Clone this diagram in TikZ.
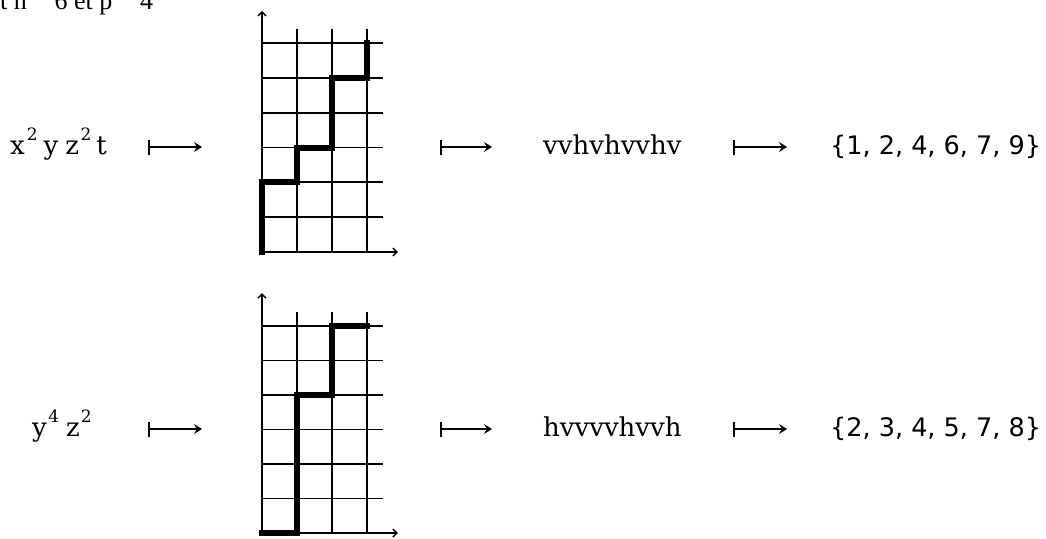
\documentclass[tikz,border=0pt]{standalone}
\usepackage{fontspec}
\setmainfont{DejaVu Serif}
\newfontfamily\setfont{DejaVu Sans}
\newfontfamily\timesfont{Liberation Serif}
\usetikzlibrary{arrows.meta}
\newcommand{\supr}[1]{\raisebox{13.5pt}{\fontsize{17pt}{17pt}\selectfont #1}}
\tikzset{
  gridline/.style={line width=1.7pt, black},
  axisline/.style={line width=1.7pt, black, -{Straight Barb[length=4pt,width=8pt,line width=1.4pt]}},
  pathline/.style={line width=6pt, black, line cap=rect, line join=miter},
  mapsto/.style={line width=1.8pt, black, {Bar[width=15pt,line width=1.8pt]}-{Stealth[length=8pt,width=10pt,inset=3pt]}},
  word/.style={inner sep=0pt, anchor=base west, font=\fontsize{26pt}{26pt}\selectfont},
  setlabel/.style={inner sep=0pt, anchor=base west, font=\setfont\fontsize{25.5pt}{26pt}\selectfont},
}
\begin{document}
\begin{tikzpicture}[x=1pt,y=-1pt]
\useasboundingbox (0,0) rectangle (1046,538);
\clip (0,0) rectangle (1046,538);

% partial top text (cut by the top edge, as in the reference)
\node[inner sep=0pt, anchor=base west, font=\timesfont\fontsize{26pt}{26pt}\selectfont] (top) at (0,9.5) {t n \phantom{=} 6 et p \phantom{=} 4};

% ---------- row 1 ----------
\node[word] (w1) at (10,154) {x\hspace*{2pt}\supr{2}\hspace*{6pt}y\hspace*{7pt}z\hspace*{1.5pt}\supr{2}\hspace*{5pt}t};
\coordinate (a1s) at (148,147); \coordinate (a1e) at (202,147);
\draw[mapsto] (a1s) -- (a1e);

\begin{scope}[shift={(262,252)}, x=35pt, y=34.83pt]
  \coordinate (g1) at (0,0);
  \foreach \i in {1,2,3} \draw[gridline] (\i,0) -- (\i,6.4);
  \foreach \j in {1,...,6} \draw[gridline] (0,\j) -- (3.46,\j);
  \draw[axisline] (g1) -- (0,6.92);
  \draw[axisline] (g1) -- (3.88,0);
  \draw[pathline] (g1) -- (0,2) -- (1,2) -- (1,3) -- (2,3) -- (2,5) -- (3,5) -- (3,6);
\end{scope}

\coordinate (a2s) at (440,147); \coordinate (a2e) at (492,147);
\draw[mapsto] (a2s) -- (a2e);
\node[word] (s1) at (543,154) {vvhvhvvhv};
\coordinate (a3s) at (733,147); \coordinate (a3e) at (787,147);
\draw[mapsto] (a3s) -- (a3e);
\node[setlabel] (e1) at (830,154) {\{1, 2, 4, 6, 7, 9\}};

% ---------- row 2 ----------
\node[word] (w2) at (32,436) {y\hspace*{1.5pt}\supr{4}\hspace*{7pt}z\hspace*{1pt}\supr{2}};
\coordinate (b1s) at (148,429); \coordinate (b1e) at (202,429);
\draw[mapsto] (b1s) -- (b1e);

\begin{scope}[shift={(262,533)}, x=35pt, y=34.5pt]
  \coordinate (g2) at (0,0);
  \foreach \i in {1,2,3} \draw[gridline] (\i,0) -- (\i,6.4);
  \foreach \j in {1,...,6} \draw[gridline] (0,\j) -- (3.46,\j);
  \draw[axisline] (g2) -- (0,6.95);
  \draw[axisline] (g2) -- (3.88,0);
  \draw[pathline] (g2) -- (1,0) -- (1,4) -- (2,4) -- (2,6) -- (3,6);
\end{scope}

\coordinate (b2s) at (440,429); \coordinate (b2e) at (492,429);
\draw[mapsto] (b2s) -- (b2e);
\node[word] (s2) at (543,436) {hvvvvhvvh};
\coordinate (b3s) at (733,429); \coordinate (b3e) at (787,429);
\draw[mapsto] (b3s) -- (b3e);
\node[setlabel] (e2) at (830,436) {\{2, 3, 4, 5, 7, 8\}};
\end{tikzpicture}
\end{document}
